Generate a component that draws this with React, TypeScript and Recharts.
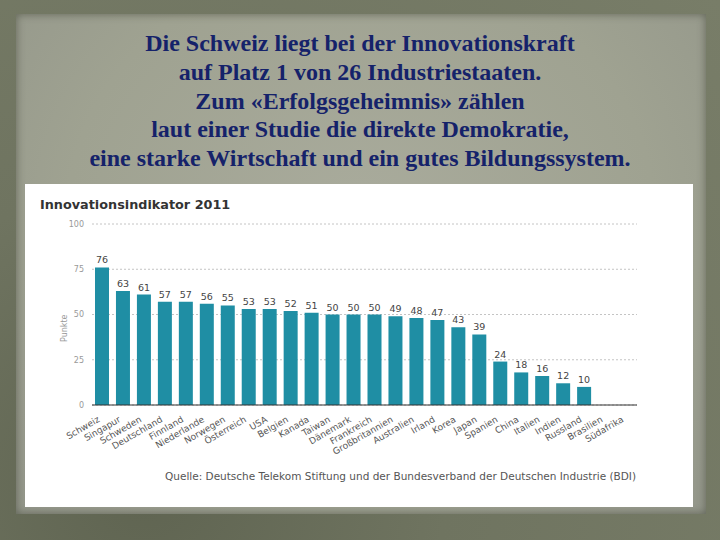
import React from 'react';
import { BarChart, Bar, XAxis, YAxis, CartesianGrid, LabelList } from 'recharts';

const titleLines = [
  'Die Schweiz liegt bei der Innovationskraft',
  'auf Platz 1 von 26 Industriestaaten.',
  'Zum «Erfolgsgeheimnis» zählen',
  'laut einer Studie die direkte Demokratie,',
  'eine starke Wirtschaft und ein gutes Bildungssystem.',
];
const chartTitle = 'Innovationsindikator 2011';
const sourceText = 'Quelle: Deutsche Telekom Stiftung und der Bundesverband der Deutschen Industrie (BDI)';
const yLabel = 'Punkte';

const countries = [
  'Schweiz', 'Singapur', 'Schweden', 'Deutschland', 'Finnland', 'Niederlande', 'Norwegen',
  'Österreich', 'USA', 'Belgien', 'Kanada', 'Taiwan', 'Dänemark', 'Frankreich',
  'Großbritannien', 'Australien', 'Irland', 'Korea', 'Japan', 'Spanien', 'China',
  'Italien', 'Indien', 'Russland', 'Brasilien', 'Südafrika',
];
const scores: (number | null)[] = [
  76, 63, 61, 57, 57, 56, 55, 53, 53, 52, 51, 50, 50, 50, 49, 48, 47, 43, 39, 24, 18, 16, 12, 10,
  null, null,
];
const yTicks = [0, 25, 50, 75, 100];

const data = countries.map((c, i) => ({ country: c, score: scores[i] }));

const XTick = (props: any) => {
  const { x, y, payload } = props;
  return (
    <g transform={`translate(${x},${y})`}>
      <text
        x={0}
        y={0}
        dx={-6}
        dy={6}
        textAnchor="end"
        transform="rotate(-30)"
        fontSize={9}
        fill="#555"
        fontFamily="DejaVu Sans, sans-serif"
      >
        {payload.value}
      </text>
    </g>
  );
};

export default function App() {
  return (
    <div
      style={{
        position: 'absolute',
        left: 0,
        top: 0,
        width: 720,
        height: 540,
        overflow: 'hidden',
        background:
          'radial-gradient(circle at 20% 90%, #5f6451 0%, #6f7460 40%, #787d68 100%)',
      }}
    >
      <div
        style={{
          position: 'absolute',
          left: 16,
          top: 14,
          width: 690,
          height: 500,
          background:
            'radial-gradient(ellipse at 50% 40%, #a9ab9c 0%, #9fa291 60%, #93968a 100%)',
          boxShadow: 'inset 0 0 8px rgba(60,64,50,0.6)',
        }}
      />
      <div
        style={{
          position: 'absolute',
          left: 0,
          top: 29,
          width: 720,
          textAlign: 'center',
          fontFamily: '"Liberation Serif", "Times New Roman", serif',
          fontWeight: 'bold',
          fontSize: 24,
          lineHeight: '28.8px',
          color: '#15226a',
        }}
      >
        {titleLines.map((l, i) => (
          <div key={i}>{l}</div>
        ))}
      </div>
      <div
        style={{
          position: 'absolute',
          left: 25,
          top: 184,
          width: 668,
          height: 323,
          background: '#ffffff',
        }}
      >
        <div
          style={{
            position: 'absolute',
            left: 15,
            top: 13,
            fontFamily: '"DejaVu Sans", sans-serif',
            fontWeight: 'bold',
            fontSize: 12.8,
            color: '#333',
          }}
        >
          {chartTitle}
        </div>
        <BarChart
          width={668}
          height={323}
          data={data}
          margin={{ top: 40, right: 56, left: 37, bottom: 42 }}
          barCategoryGap={0}
        >
          <CartesianGrid vertical={false} stroke="#c4c4c4" strokeDasharray="2 2" />
          <XAxis
            dataKey="country"
            interval={0}
            height={60}
            tickLine={false}
            axisLine={{ stroke: '#333', strokeWidth: 1 }}
            tick={<XTick />}
          />
          <YAxis
            domain={[0, 100]}
            ticks={yTicks}
            width={30}
            axisLine={false}
            tickLine={false}
            tick={{ fontSize: 8, fill: '#999', fontFamily: 'DejaVu Sans, sans-serif' }}
            label={{
              value: yLabel,
              angle: -90,
              position: 'left',
              offset: -2,
              style: { fontSize: 8, fill: '#999', fontFamily: 'DejaVu Sans, sans-serif' },
            }}
          />
          <Bar dataKey="score" fill="#1f8ea4" barSize={14} isAnimationActive={false}>
            <LabelList
              dataKey="score"
              position="top"
              offset={4}
              fontSize={9.5}
              fill="#444"
              fontFamily="DejaVu Sans, sans-serif"
            />
          </Bar>
        </BarChart>
        <div
          style={{
            position: 'absolute',
            left: 140,
            top: 286,
            whiteSpace: 'nowrap',
            fontFamily: '"DejaVu Sans", sans-serif',
            fontSize: 10.5,
            color: '#555',
          }}
        >
          {sourceText}
        </div>
      </div>
    </div>
  );
}
